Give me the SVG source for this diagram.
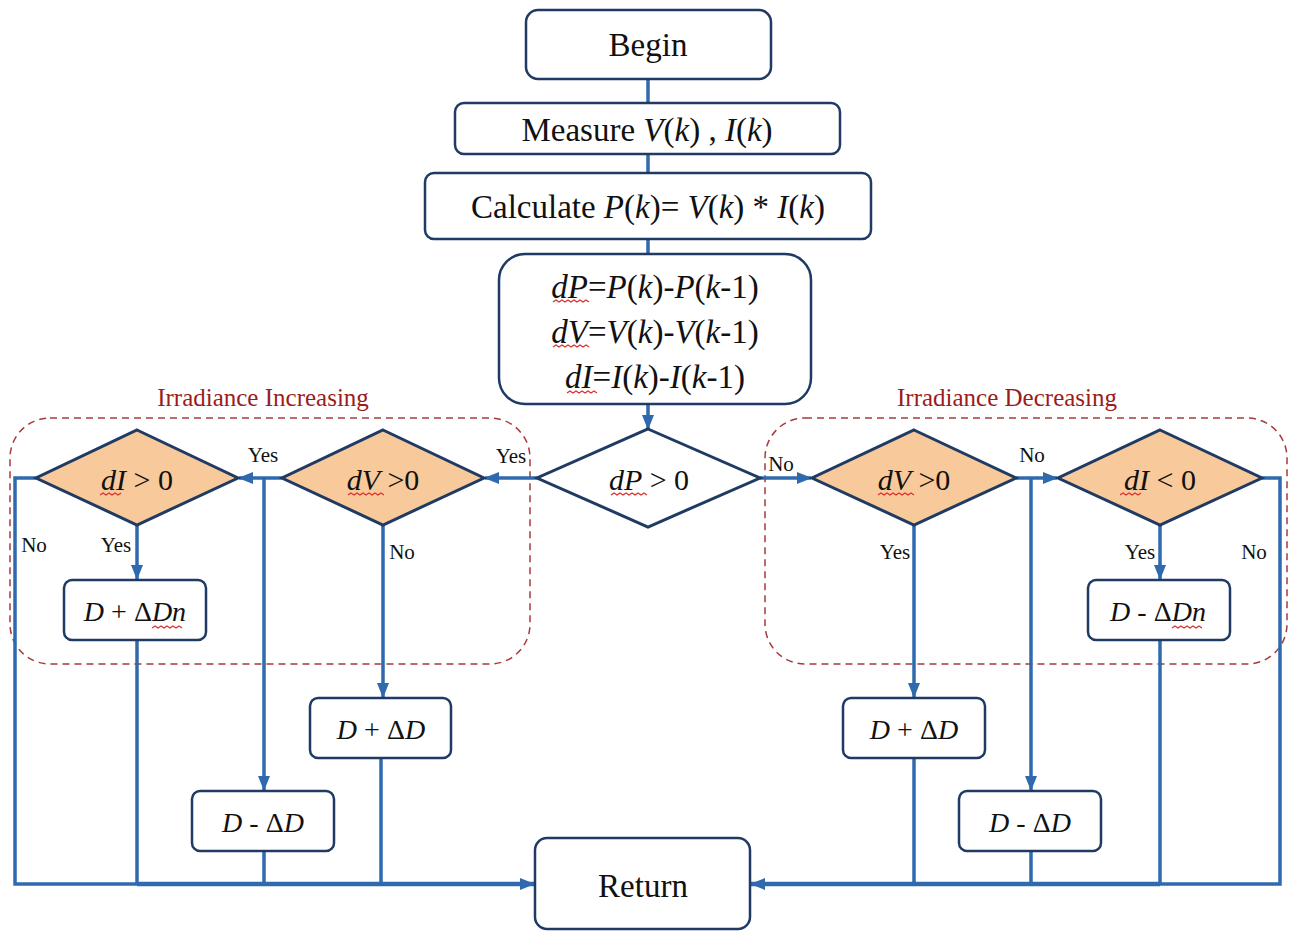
<svg xmlns="http://www.w3.org/2000/svg" width="1293" height="931" viewBox="0 0 1293 931">
<style>
  .box{fill:#fff;stroke:#1F3A63;stroke-width:2.5}
  .dia{fill:#F8C99B;stroke:#1F3A63;stroke-width:3}
  .diaw{fill:#fff;stroke:#1F3A63;stroke-width:3}
  .t{font-family:'Liberation Serif',serif;fill:#111;text-anchor:middle}
  .big{font-size:33px}
  .mid{font-size:30px}
  .sm{font-size:28px}
  .lbl{font-size:21px}
  .red{font-family:'Liberation Serif',serif;font-size:25px;fill:#9A1C1C;text-anchor:middle}
  .i{font-style:italic}
  .c{fill:none;stroke:#2F6AAE;stroke-width:3.5}
  .ca{fill:none;stroke:#2F6AAE;stroke-width:3.5;marker-end:url(#ah)}
  .grp{fill:none;stroke:#A63A3A;stroke-width:1.5;stroke-dasharray:7 5}
  .wv{fill:none;stroke:#D93030;stroke-width:1.2}
</style>
<defs>
  <marker id="ah" markerUnits="userSpaceOnUse" markerWidth="16" markerHeight="16" viewBox="0 0 16 16" refX="14" refY="8" orient="auto">
    <path d="M0,2 L15,8 L0,14 z" fill="#2F6AAE"/>
  </marker>
</defs>
<rect width="1293" height="931" fill="#fff"/>

<g id="group-increasing">
  <rect class="grp" x="10" y="418" width="520" height="246" rx="40"/>
  <text class="red" x="263" y="406">Irradiance Increasing</text>
</g>
<g id="group-decreasing">
  <rect class="grp" x="765" y="418" width="522" height="246" rx="40"/>
  <text class="red" x="1007" y="406">Irradiance Decreasing</text>
</g>

<g id="connectors">
  <line class="c" x1="648" y1="79" x2="648" y2="103"/>
  <line class="c" x1="648" y1="154" x2="648" y2="173"/>
  <line class="c" x1="648" y1="239" x2="648" y2="254"/>
  <line class="ca" x1="648" y1="404" x2="648" y2="429"/>
  <line class="ca" x1="537" y1="478" x2="485" y2="478"/>
  <line class="ca" x1="282" y1="478" x2="239" y2="478"/>
  <polyline class="ca" points="264,478 264,790"/>
  <line class="ca" x1="383" y1="525" x2="383" y2="697"/>
  <line class="ca" x1="137" y1="525" x2="137" y2="579"/>
  <polyline class="c" points="36,478 15,478 15,884 137,884"/>
  <line class="c" x1="137" y1="640" x2="137" y2="884"/>
  <line class="c" x1="264" y1="851" x2="264" y2="884"/>
  <line class="c" x1="381" y1="758" x2="381" y2="884"/>
  <line class="ca" x1="137" y1="884" x2="534" y2="884" style="stroke-width:4.5"/>
  <line class="ca" x1="760" y1="478" x2="811" y2="478"/>
  <line class="ca" x1="1016" y1="478" x2="1057" y2="478"/>
  <line class="ca" x1="1031" y1="478" x2="1031" y2="790"/>
  <line class="ca" x1="914" y1="525" x2="914" y2="697"/>
  <line class="ca" x1="1160" y1="525" x2="1160" y2="579"/>
  <polyline class="c" points="1262,478 1280,478 1280,884 1160,884"/>
  <line class="c" x1="1160" y1="640" x2="1160" y2="884"/>
  <line class="c" x1="1031" y1="851" x2="1031" y2="884"/>
  <line class="c" x1="914" y1="758" x2="914" y2="884"/>
  <line class="ca" x1="1160" y1="884" x2="751" y2="884" style="stroke-width:4.5"/>
  <text class="t lbl" x="511" y="463">Yes</text>
  <text class="t lbl" x="263" y="462">Yes</text>
  <text class="t lbl" x="116" y="552">Yes</text>
  <text class="t lbl" x="34" y="552">No</text>
  <text class="t lbl" x="402" y="559">No</text>
  <text class="t lbl" x="781" y="471">No</text>
  <text class="t lbl" x="1032" y="462">No</text>
  <text class="t lbl" x="895" y="559">Yes</text>
  <text class="t lbl" x="1140" y="559">Yes</text>
  <text class="t lbl" x="1254" y="559">No</text>
</g>

<g id="begin">
  <rect class="box" x="526" y="10" width="245" height="69" rx="12"/>
  <text class="t big" x="648" y="56">Begin</text>
</g>
<g id="measure">
  <rect class="box" x="455" y="103" width="385" height="51" rx="9"/>
  <text class="t big" x="647" y="141">Measure <tspan class="i">V</tspan>(<tspan class="i">k</tspan>) , <tspan class="i">I</tspan>(<tspan class="i">k</tspan>)</text>
</g>
<g id="calculate">
  <rect class="box" x="425" y="173" width="446" height="66" rx="9"/>
  <text class="t big" x="648" y="218">Calculate <tspan class="i">P</tspan>(<tspan class="i">k</tspan>)= <tspan class="i">V</tspan>(<tspan class="i">k</tspan>) * <tspan class="i">I</tspan>(<tspan class="i">k</tspan>)</text>
</g>
<g id="differences">
  <rect class="box" x="499" y="254" width="312" height="150" rx="26"/>
  <text class="t big" x="655" y="298"><tspan class="i">dP</tspan>=<tspan class="i">P</tspan>(<tspan class="i">k</tspan>)-<tspan class="i">P</tspan>(<tspan class="i">k</tspan>-1)</text>
  <text class="t big" x="655" y="343"><tspan class="i">dV</tspan>=<tspan class="i">V</tspan>(<tspan class="i">k</tspan>)-<tspan class="i">V</tspan>(<tspan class="i">k</tspan>-1)</text>
  <text class="t big" x="655" y="388"><tspan class="i">dI</tspan>=<tspan class="i">I</tspan>(<tspan class="i">k</tspan>)-<tspan class="i">I</tspan>(<tspan class="i">k</tspan>-1)</text>
  <path class="wv" d="M553,302 l3,-2 3,2 3,-2 3,2 3,-2 3,2 3,-2 3,2 3,-2 3,2 3,-2 3,2"/>
  <path class="wv" d="M553,347 l3,-2 3,2 3,-2 3,2 3,-2 3,2 3,-2 3,2 3,-2 3,2 3,-2 3,2"/>
  <path class="wv" d="M567,393 l3,-2 3,2 3,-2 3,2 3,-2 3,2 3,-2 3,2 3,-2 3,2"/>
</g>
<g id="dp-decision">
  <polygon class="diaw" points="648,429 760,478 648,527 537,478"/>
  <text class="t mid" x="649" y="490"><tspan class="i">dP</tspan> &gt; 0</text>
  <path class="wv" d="M611,495 l3,-2 3,2 3,-2 3,2 3,-2 3,2 3,-2 3,2 3,-2 3,2 3,-2 3,2"/>
</g>
<g id="dv-left">
  <polygon class="dia" points="383,430 484,478 383,525 282,478"/>
  <text class="t mid" x="383" y="490"><tspan class="i">dV</tspan> &gt;0</text>
  <path class="wv" d="M348,495 l3,-2 3,2 3,-2 3,2 3,-2 3,2 3,-2 3,2 3,-2 3,2 3,-2 3,2"/>
</g>
<g id="di-left">
  <polygon class="dia" points="137,430 238,478 137,525 36,478"/>
  <text class="t mid" x="137" y="490"><tspan class="i">dI</tspan> &gt; 0</text>
  <path class="wv" d="M100,495 l3,-2 3,2 3,-2 3,2 3,-2 3,2 3,-2"/>
</g>
<g id="inc-dn">
  <rect class="box" x="64" y="580" width="142" height="60" rx="8"/>
  <text class="t sm" x="135" y="621"><tspan class="i">D</tspan> + Δ<tspan class="i">Dn</tspan></text>
  <path class="wv" d="M152,628 l3,-2 3,2 3,-2 3,2 3,-2 3,2 3,-2 3,2 3,-2 3,2"/>
</g>
<g id="inc-d-left">
  <rect class="box" x="310" y="698" width="141" height="60" rx="8"/>
  <text class="t sm" x="381" y="739"><tspan class="i">D</tspan> + Δ<tspan class="i">D</tspan></text>
</g>
<g id="dec-d-left">
  <rect class="box" x="192" y="791" width="142" height="60" rx="8"/>
  <text class="t sm" x="263" y="832"><tspan class="i">D</tspan> - Δ<tspan class="i">D</tspan></text>
</g>
<g id="dv-right">
  <polygon class="dia" points="914,430 1016,478 914,525 812,478"/>
  <text class="t mid" x="914" y="490"><tspan class="i">dV</tspan> &gt;0</text>
  <path class="wv" d="M878,495 l3,-2 3,2 3,-2 3,2 3,-2 3,2 3,-2 3,2 3,-2 3,2 3,-2 3,2"/>
</g>
<g id="di-right">
  <polygon class="dia" points="1160,430 1262,478 1160,525 1058,478"/>
  <text class="t mid" x="1160" y="490"><tspan class="i">dI</tspan> &lt; 0</text>
  <path class="wv" d="M1120,495 l3,-2 3,2 3,-2 3,2 3,-2 3,2 3,-2"/>
</g>
<g id="dec-dn">
  <rect class="box" x="1088" y="580" width="142" height="60" rx="8"/>
  <text class="t sm" x="1158" y="621"><tspan class="i">D</tspan> - Δ<tspan class="i">Dn</tspan></text>
  <path class="wv" d="M1172,628 l3,-2 3,2 3,-2 3,2 3,-2 3,2 3,-2 3,2 3,-2 3,2"/>
</g>
<g id="inc-d-right">
  <rect class="box" x="843" y="698" width="142" height="60" rx="8"/>
  <text class="t sm" x="914" y="739"><tspan class="i">D</tspan> + Δ<tspan class="i">D</tspan></text>
</g>
<g id="dec-d-right">
  <rect class="box" x="959" y="791" width="142" height="60" rx="8"/>
  <text class="t sm" x="1030" y="832"><tspan class="i">D</tspan> - Δ<tspan class="i">D</tspan></text>
</g>
<g id="return">
  <rect class="box" x="535" y="838" width="215" height="91" rx="12"/>
  <text class="t big" x="643" y="897">Return</text>
</g>
</svg>
